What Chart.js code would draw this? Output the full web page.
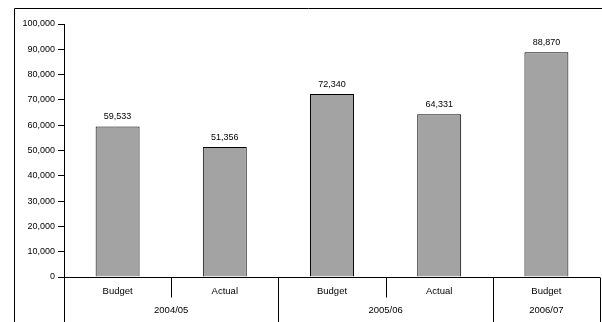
<!DOCTYPE html>
<html>
<head>
<meta charset="utf-8">
<script src="https://cdn.jsdelivr.net/npm/chart.js@4/dist/chart.umd.min.js"></script>
<style>
  html, body { margin: 0; padding: 0; background: #fff; }
  #wrap { width: 602px; height: 322px; }
</style>
</head>
<body>
<div id="wrap"><canvas id="c" width="602" height="322"></canvas></div>
<script>
// Budget vs actual, by financial year
const categories = ['Budget', 'Actual', 'Budget', 'Actual', 'Budget'];
const years = ['2004/05', '2005/06', '2006/07'];
const yearSpan = [2, 2, 1];            // how many bars sit under each year
const values = [59533, 51356, 72340, 64331, 88870];
const yTicks = [0, 10000, 20000, 30000, 40000, 50000, 60000, 70000, 80000, 90000, 100000];

const FONT = '"Liberation Sans", Arial, sans-serif';
const fmt = v => v.toLocaleString('en-US');

// Outer frame, value labels and the two-row category axis
const decor = {
  id: 'decor',
  afterDraw(chart) {
    const ctx = chart.ctx;
    const a = chart.chartArea;
    const x = chart.scales.x;
    const y = chart.scales.y;
    const H = chart.height;
    ctx.save();

    // frame
    ctx.strokeStyle = '#000';
    ctx.lineWidth = 1;
    ctx.beginPath();
    ctx.moveTo(14.5, H + 2);
    ctx.lineTo(14.5, 8.5);
    ctx.lineTo(chart.width + 2, 8.5);
    ctx.stroke();

    // values above bars
    ctx.fillStyle = '#000';
    ctx.font = '9px ' + FONT;
    ctx.textAlign = 'center';
    ctx.textBaseline = 'middle';
    const meta = chart.getDatasetMeta(0);
    meta.data.forEach((bar, i) => {
      ctx.fillText(fmt(values[i]), bar.x, bar.y - 9.5);
    });

    // category axis
    const base = Math.round(a.bottom) + 0.5;
    const step = (a.right - a.left) / categories.length;
    ctx.strokeStyle = '#000';
    ctx.beginPath();
    ctx.moveTo(a.left, base);
    ctx.lineTo(a.right, base);
    ctx.stroke();

    // group boundaries (full height) and inner dividers (short)
    let idx = 0;
    const bounds = [0];
    yearSpan.forEach(n => { idx += n; bounds.push(idx); });
    ctx.beginPath();
    bounds.forEach(b => {
      const px = Math.round(a.left + b * step) + 0.5;
      ctx.moveTo(px, base);
      ctx.lineTo(px, H + 2);
    });
    for (let i = 1; i < categories.length; i++) {
      if (bounds.includes(i)) continue;
      const px = Math.round(a.left + i * step) + 0.5;
      ctx.moveTo(px, base);
      ctx.lineTo(px, base + 20);
    }
    ctx.stroke();

    ctx.font = '9.5px ' + FONT;
    categories.forEach((c, i) => {
      ctx.fillText(c, x.getPixelForValue(i), base + 14);
    });
    years.forEach((yr, g) => {
      const cx = a.left + (bounds[g] + bounds[g + 1]) / 2 * step;
      ctx.fillText(yr, cx, base + 33);
    });

    ctx.restore();
  }
};

new Chart(document.getElementById('c'), {
  type: 'bar',
  data: {
    labels: categories,
    datasets: [{
      data: values,
      backgroundColor: '#a3a3a3',
      borderColor: '#000',
      borderWidth: 1,
      borderSkipped: 'bottom',
      barPercentage: 0.41,
      categoryPercentage: 1
    }]
  },
  options: {
    responsive: false,
    animation: false,
    devicePixelRatio: 1,
    layout: { padding: { left: 14, right: 2, top: 24, bottom: 45 } },
    plugins: { legend: { display: false }, tooltip: { enabled: false }, title: { display: false } },
    scales: {
      x: { display: false },
      y: {
        min: 0,
        max: 100000,
        afterFit(scale) { scale.width = 50; },
        afterBuildTicks(scale) { scale.ticks = yTicks.map(v => ({ value: v })); },
        ticks: {
          color: '#000',
          padding: 3,
          font: { family: FONT, size: 9 },
          callback: v => fmt(v)
        },
        grid: {
          drawOnChartArea: false,
          drawTicks: true,
          tickLength: 6,
          tickColor: '#000',
          color: '#000'
        },
        border: { display: true, color: '#000', width: 1 }
      }
    }
  },
  plugins: [decor]
});
</script>
</body>
</html>
